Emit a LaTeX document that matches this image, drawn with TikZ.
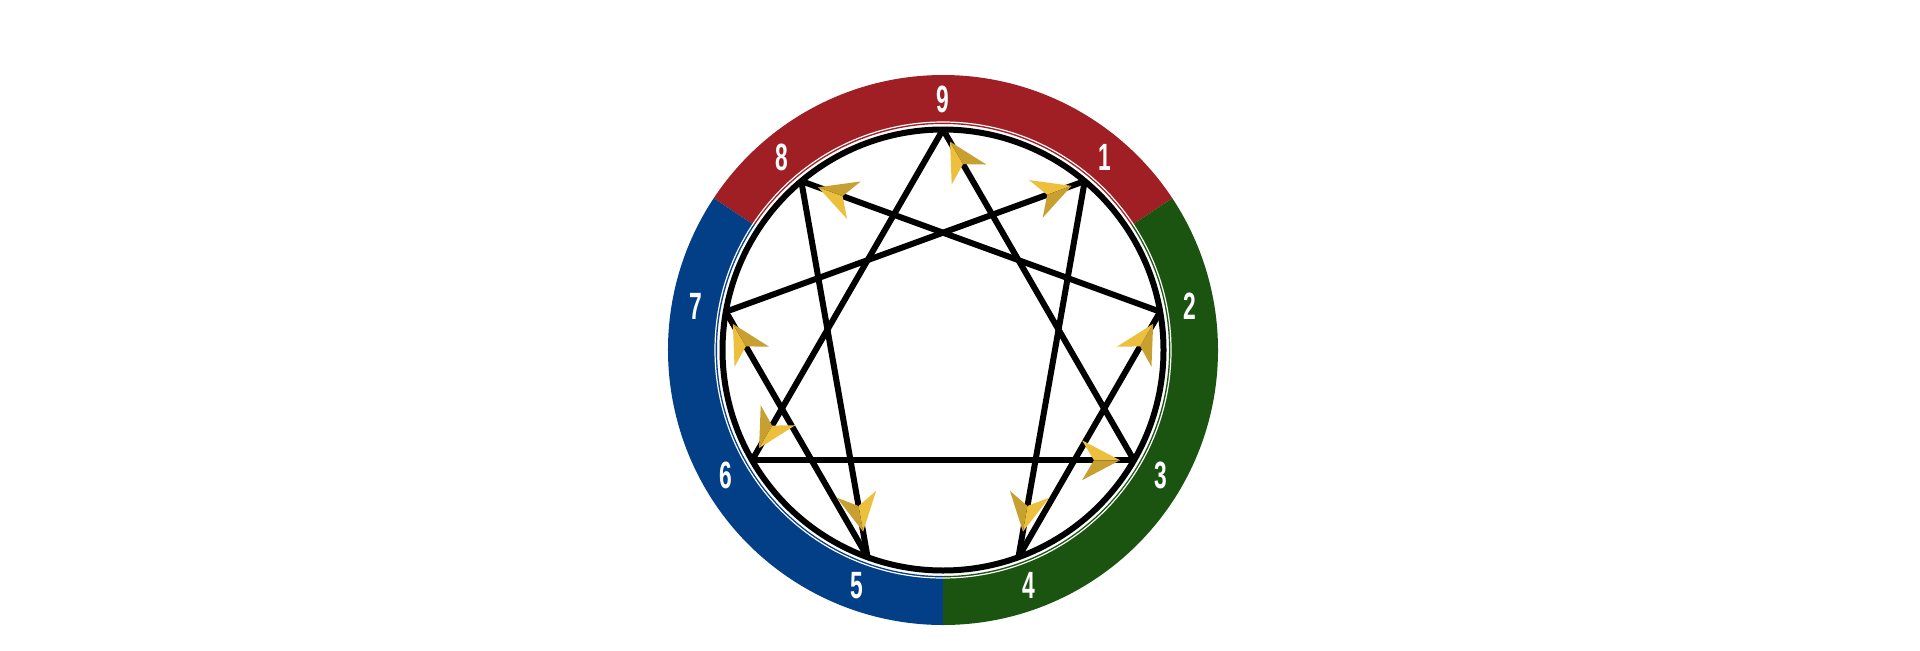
\documentclass[tikz,border=0pt]{standalone}
\usepackage{fontspec}
\setmainfont{Liberation Sans}
\usetikzlibrary{calc}
\definecolor{ringred}{RGB}{160,31,36}
\definecolor{ringgreen}{RGB}{27,84,17}
\definecolor{ringblue}{RGB}{3,63,134}
\definecolor{goldlight}{RGB}{236,192,60}
\definecolor{golddark}{RGB}{200,160,50}
\newcommand\goldhead[3][7]{%
  \coordinate (tp) at ($(#3)!#1pt!(#2)$);
  \coordinate (bk) at ($(tp)!19pt!(#2)$);
  \coordinate (nt) at ($(tp)!13pt!(#2)$);
  \fill[goldlight] (tp) -- ($(bk)!10pt!90:(tp)$) -- (nt) -- cycle;
  \fill[golddark] (tp) -- ($(bk)!10pt!-90:(tp)$) -- (nt) -- cycle;
}
\begin{document}
\begin{tikzpicture}[x=0.5pt,y=0.5pt,
  enn/.style={line width=3pt, black},
  numlabel/.style={text=white, font=\bfseries\fontsize{19}{19}\selectfont, inner sep=0pt}]
\useasboundingbox (0,0) rectangle (1920,650);
\coordinate (c) at (943,300);
% coloured ring
\fill[ringred] ($(c)+(33.5:275)$) arc[start angle=33.5,end angle=146.5,radius=275]
  -- ($(c)+(146.5:226)$) arc[start angle=146.5,end angle=33.5,radius=226] -- cycle;
\fill[ringblue] ($(c)+(146.5:275)$) arc[start angle=146.5,end angle=270,radius=275]
  -- ($(c)+(270:226)$) arc[start angle=270,end angle=146.5,radius=226] -- cycle;
\fill[ringgreen] ($(c)+(-90:275)$) arc[start angle=-90,end angle=33.5,radius=275]
  -- ($(c)+(33.5:226)$) arc[start angle=33.5,end angle=-90,radius=226] -- cycle;
\draw[white, line width=0.6pt] (c) circle[radius=228];
\draw[enn] (c) circle[radius=220.5];
% vertices and labels
\foreach \k in {1,...,9}{
  \coordinate (v\k) at ($(c)+({90-40*\k}:220.5)$);
  \node[numlabel] (l\k) at ($(c)+({90-40*\k}:251)$) {\scalebox{0.6}[1]{\k}};
}
% enneagram lines
\draw[enn] (v9) -- (v3);
\draw[enn] (v3) -- (v6);
\draw[enn] (v6) -- (v9);
\draw[enn] (v1) -- (v4);
\draw[enn] (v4) -- (v2);
\draw[enn] (v2) -- (v8);
\draw[enn] (v8) -- (v5);
\draw[enn] (v5) -- (v7);
\draw[enn] (v7) -- (v1);
% arrowheads
\goldhead{v3}{v9}
\goldhead{v9}{v6}
\goldhead{v6}{v3}
\goldhead[13]{v1}{v4}
\goldhead{v4}{v2}
\goldhead[9]{v2}{v8}
\goldhead[13]{v8}{v5}
\goldhead{v5}{v7}
\goldhead{v7}{v1}
\end{tikzpicture}
\end{document}
